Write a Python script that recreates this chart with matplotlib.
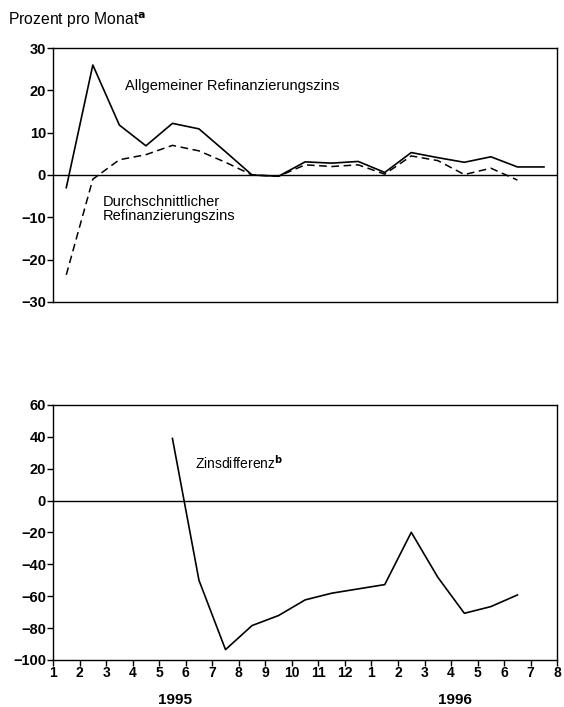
import matplotlib.pyplot as plt
import numpy as np

plt.rcParams['font.family'] = ['Liberation Sans', 'DejaVu Sans']

# month labels along the shared x axis (1995: 1-12, 1996: 1-8)
month_labels = [str(m) for m in range(1, 13)] + [str(m) for m in range(1, 9)]

# top panel: monthly values sit between tick marks (mid-month)
top_months = np.arange(19) + 0.5
allgemein = [-3, 26, 11.8, 6.9, 12.2, 10.9, 5.5, 0, -0.3, 3.1, 2.8, 3.2, 0.6,
             5.3, 4.1, 3.0, 4.3, 1.9, 1.9]
durchschnitt = [-23.6, -1, 3.6, 4.8, 7.0, 5.7, 3.0, 0, -0.3, 2.4, 2.0, 2.4,
                0.2, 4.5, 3.4, 0.1, 1.6, -1.2]

# bottom panel: interest rate differential
diff_months = np.arange(4, 18) + 0.5
zinsdifferenz = [39, -50, -93.5, -78.4, -72.1, -62.3, -58.1, -55.4, -52.7,
                 -19.9, -48.1, -70.7, -66.5, -59.2]

fig = plt.figure(figsize=(5.64, 7.07), dpi=100)
ax1 = fig.add_axes([0.094, 0.573, 0.894, 0.359])
ax2 = fig.add_axes([0.094, 0.0665, 0.894, 0.3607])

# --- top panel ---
ax1.plot(top_months, allgemein, color='black', lw=1.2)
ax1.plot(top_months[:len(durchschnitt)], durchschnitt, color='black', lw=1.1,
         dashes=(5, 3))
ax1.axhline(0, color='black', lw=1.0)
ax1.set_xlim(0, 19)
ax1.set_ylim(-30, 30)
ax1.set_yticks(np.arange(-30, 31, 10))
ax1.set_xticks([])
ax1.tick_params(axis='y', direction='out', length=4, width=1,
                labelsize=10.5, pad=1)
for lab in ax1.get_yticklabels():
    lab.set_fontweight('bold')

ax1.text(2.7, 21, 'Allgemeiner Refinanzierungszins', fontsize=10.5,
         ha='left', va='center')
ax1.text(1.88, -8, 'Durchschnittlicher\nRefinanzierungszins', fontsize=10.5,
         ha='left', va='center', linespacing=1.05)

# --- bottom panel ---
ax2.plot(diff_months, zinsdifferenz, color='black', lw=1.2)
ax2.axhline(0, color='black', lw=1.0)
ax2.set_xlim(0, 19)
ax2.set_ylim(-100, 60)
ax2.set_yticks(np.arange(-100, 61, 20))
ax2.set_xticks(np.arange(20))
ax2.set_xticklabels(month_labels)
ax2.tick_params(axis='y', direction='out', length=4, width=1,
                labelsize=10.5, pad=1)
ax2.tick_params(axis='x', direction='out', length=4, width=1,
                labelsize=10, pad=0.5)
for lab in ax2.get_yticklabels() + ax2.get_xticklabels():
    lab.set_fontweight('bold')

ax2.text(5.34, 24, r'Zinsdifferenz$^{\mathbf{b}}$', fontsize=10,
         ha='left', va='center')

ax2.text(4.6, -124.8, '1995', fontsize=11, fontweight='bold', ha='center',
         va='center')
ax2.text(15.15, -124.8, '1996', fontsize=11, fontweight='bold', ha='center',
         va='center')

for ax in (ax1, ax2):
    for sp in ax.spines.values():
        sp.set_linewidth(1.0)

fig.text(0.014, 0.972, r'Prozent pro Monat$^{\mathbf{a}}$', fontsize=11.3,
         ha='left', va='center')

fig.savefig('out.png', dpi=100)
